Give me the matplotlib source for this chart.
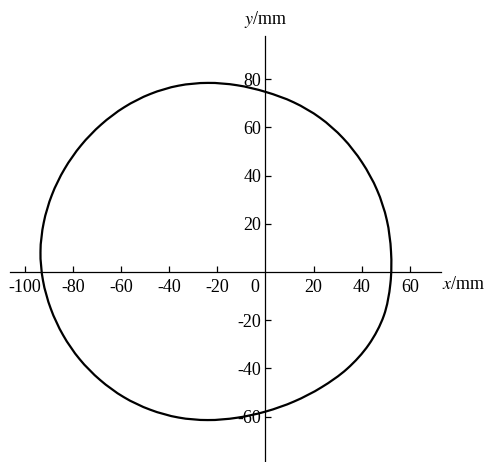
import matplotlib
matplotlib.use("Agg")
import matplotlib.pyplot as plt
import numpy as np
from matplotlib.path import Path
from matplotlib.patches import PathPatch

plt.rcParams['font.family'] = ['Liberation Serif', 'DejaVu Serif']
plt.rcParams['mathtext.fontset'] = 'stix'

# cam profile: radius (mm) about a centre, every 10 degrees
centre_x, centre_y = -24.0, 8.5
profile_angle = list(range(-180, 180, 10))
profile_radius = [69.4, 69.4, 69.3, 69.3, 69.4, 69.5, 69.7, 69.8, 69.9, 69.9,
                  70.0, 70.6, 71.8, 73.5, 75.6, 77.2, 77.8, 77.0, 76.1, 75.5,
                  74.8, 74.0, 73.3, 72.5, 71.5, 70.5, 70.1, 70.0, 69.9, 69.6,
                  69.2, 68.8, 68.6, 68.6, 68.8, 69.1]

x_ticks = [-100, -80, -60, -40, -20, 20, 40, 60]
y_ticks = [-60, -40, -20, 20, 40, 60, 80]

fig = plt.figure(figsize=(4.91, 4.62), dpi=100)
ax = fig.add_axes([0, 0, 1, 1])
ax.set_xlim(-110.2, 93.6)
ax.set_ylim(-78.8, 112.9)

th = np.radians(profile_angle)
r = np.array(profile_radius)
pts = np.column_stack([centre_x + r * np.cos(th), centre_y + r * np.sin(th)])

# closed smooth curve through the points (Catmull-Rom as cubic Bezier)
n = len(pts)
verts = [pts[0]]
codes = [Path.MOVETO]
for i in range(n):
    p0, p1, p2, p3 = pts[i - 1], pts[i], pts[(i + 1) % n], pts[(i + 2) % n]
    verts += [p1 + (p2 - p0) / 6, p2 - (p3 - p1) / 6, p2]
    codes += [Path.CURVE4] * 3
ax.add_patch(PathPatch(Path(verts, codes), fill=False, lw=1.6, ec='black'))

for s in ['top', 'right']:
    ax.spines[s].set_visible(False)
ax.spines['bottom'].set_position(('data', 0))
ax.spines['left'].set_position(('data', 0))
ax.spines['bottom'].set_bounds(-106, 72.8)
ax.spines['left'].set_bounds(-78.8, 97.9)
ax.spines['bottom'].set_linewidth(0.9)
ax.spines['left'].set_linewidth(0.9)

ax.set_xticks(x_ticks)
ax.set_xticklabels([str(v) for v in x_ticks])
ax.set_yticks(y_ticks)
ax.set_yticklabels([str(v) for v in y_ticks])
ax.tick_params(axis='x', direction='in', length=4, width=0.9, pad=5, labelsize=13)
ax.tick_params(axis='y', direction='in', length=4, width=0.9, pad=3, labelsize=13)

ax.text(-4.5, -6.5, '0', fontsize=13, ha='center', va='center')
ax.text(0, 105, r'$y$/mm', fontsize=13, ha='center', va='center')
ax.text(73.3, -5, r'$x$/mm', fontsize=13, ha='left', va='center')

fig.savefig('out.png', dpi=100)
